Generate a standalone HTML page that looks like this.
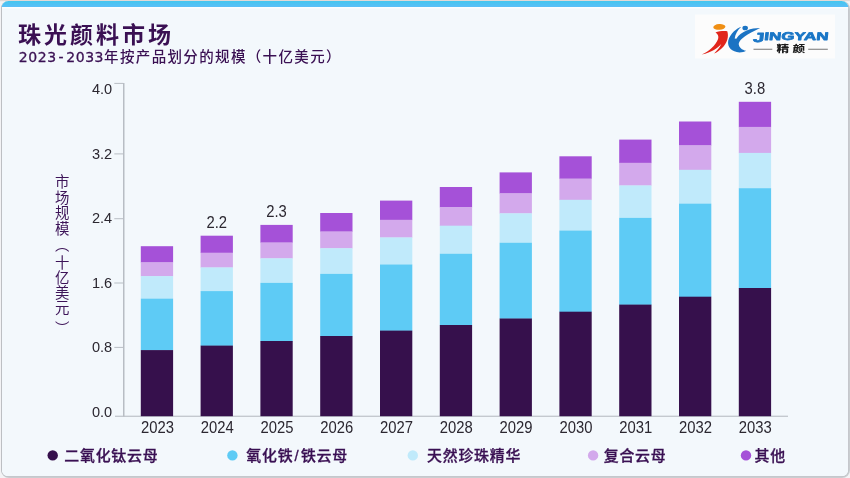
<!DOCTYPE html>
<html lang="zh"><head><meta charset="utf-8"><title>珠光颜料市场</title>
<style>html,body{margin:0;padding:0;background:#f3f3f5;}svg{display:block}text{font-family:"Liberation Sans","Noto Sans CJK SC",sans-serif}</style>
</head><body>
<svg width="850" height="478" viewBox="0 0 850 478">
<defs><linearGradient id="tb" x1="0" y1="0" x2="0" y2="1"><stop offset="0" stop-color="#43c6ee"/><stop offset="1" stop-color="#5bbff8"/></linearGradient>
<clipPath id="cc"><rect x="1.5" y="1" width="847" height="475.5" rx="7" ry="7"/></clipPath></defs>
<rect x="0" y="0" width="850" height="478" fill="#f3f3f5"/>
<rect x="0" y="0" width="850" height="1.2" fill="#e2d9d6"/>
<rect x="1" y="1" width="849" height="477" rx="8" ry="8" fill="#c9cdd0"/>
<rect x="1" y="1" width="848" height="476" rx="7.5" ry="7.5" fill="#bdbfc3"/>
<g clip-path="url(#cc)">
<rect x="2" y="1" width="846.3" height="475.3" fill="#f3f8fc"/>
<rect x="1" y="1" width="848" height="6" fill="url(#tb)"/>
<rect x="2" y="7" width="846.3" height="1.5" fill="#fbfdfe"/>
</g>
<rect x="695" y="14.5" width="140" height="44" fill="#fcfcfc"/>
<text x="18" y="43.2" font-size="23" font-weight="700" fill="#3a1053" letter-spacing="3">珠光颜料市场</text>
<text x="18.8" y="61.9" font-size="14.5" font-weight="500" fill="#3a1053" letter-spacing="1.35"><tspan style="font-family:&quot;DejaVu Sans&quot;,&quot;Liberation Sans&quot;,sans-serif" font-size="14" font-weight="400" letter-spacing="0.55" stroke="#3a1053" stroke-width="0.3">2023<tspan dx="1.9">-</tspan><tspan dx="2.1">2033</tspan></tspan>年按产品划分的规模（十亿美元）</text>
<rect x="123.0" y="83" width="1.5" height="333.6" fill="#b8bdc4"/>
<rect x="115" y="415.7" width="673" height="1.1" fill="#b8bdc4"/>
<rect x="114.3" y="82.9" width="9" height="1" fill="#b8bdc4"/>
<rect x="114.3" y="153.4" width="9" height="1" fill="#b8bdc4"/>
<rect x="114.3" y="218.2" width="9" height="1" fill="#b8bdc4"/>
<rect x="114.3" y="282.5" width="9" height="1" fill="#b8bdc4"/>
<rect x="114.3" y="346.9" width="9" height="1" fill="#b8bdc4"/>
<text transform="translate(112.2,93.9) scale(0.94,1)" font-size="15.5" text-anchor="end" fill="#2b2730">4.0</text>
<text transform="translate(112.2,158.5) scale(0.94,1)" font-size="15.5" text-anchor="end" fill="#2b2730">3.2</text>
<text transform="translate(112.2,223.3) scale(0.94,1)" font-size="15.5" text-anchor="end" fill="#2b2730">2.4</text>
<text transform="translate(112.2,287.6) scale(0.94,1)" font-size="15.5" text-anchor="end" fill="#2b2730">1.6</text>
<text transform="translate(112.2,352.0) scale(0.94,1)" font-size="15.5" text-anchor="end" fill="#2b2730">0.8</text>
<text transform="translate(112.2,416.7) scale(0.94,1)" font-size="15.5" text-anchor="end" fill="#2b2730">0.0</text>
<rect x="140.8" y="246.2" width="32.3" height="16.4" fill="#a551d8"/>
<rect x="140.8" y="262.3" width="32.3" height="14.1" fill="#d3a9ec"/>
<rect x="140.8" y="276.1" width="32.3" height="22.9" fill="#c0eafb"/>
<rect x="140.8" y="298.7" width="32.3" height="51.7" fill="#5ecbf5"/>
<rect x="140.8" y="350.1" width="32.3" height="66.1" fill="#36104c"/>
<text transform="translate(157.4,433.1) scale(0.945,1)" font-size="15.7" text-anchor="middle" fill="#2b2730">2023</text>
<rect x="200.6" y="235.7" width="32.3" height="17.3" fill="#a551d8"/>
<rect x="200.6" y="252.7" width="32.3" height="15.0" fill="#d3a9ec"/>
<rect x="200.6" y="267.4" width="32.3" height="24.0" fill="#c0eafb"/>
<rect x="200.6" y="291.1" width="32.3" height="54.8" fill="#5ecbf5"/>
<rect x="200.6" y="345.6" width="32.3" height="70.6" fill="#36104c"/>
<text transform="translate(217.2,433.1) scale(0.945,1)" font-size="15.7" text-anchor="middle" fill="#2b2730">2024</text>
<rect x="260.4" y="224.9" width="32.3" height="17.9" fill="#a551d8"/>
<rect x="260.4" y="242.5" width="32.3" height="16.1" fill="#d3a9ec"/>
<rect x="260.4" y="258.3" width="32.3" height="24.9" fill="#c0eafb"/>
<rect x="260.4" y="282.9" width="32.3" height="58.4" fill="#5ecbf5"/>
<rect x="260.4" y="341.0" width="32.3" height="75.2" fill="#36104c"/>
<text transform="translate(276.9,433.1) scale(0.945,1)" font-size="15.7" text-anchor="middle" fill="#2b2730">2025</text>
<rect x="320.2" y="213.0" width="32.3" height="18.8" fill="#a551d8"/>
<rect x="320.2" y="231.5" width="32.3" height="17.0" fill="#d3a9ec"/>
<rect x="320.2" y="248.2" width="32.3" height="26.0" fill="#c0eafb"/>
<rect x="320.2" y="273.9" width="32.3" height="62.4" fill="#5ecbf5"/>
<rect x="320.2" y="336.0" width="32.3" height="80.2" fill="#36104c"/>
<text transform="translate(336.7,433.1) scale(0.945,1)" font-size="15.7" text-anchor="middle" fill="#2b2730">2026</text>
<rect x="380.0" y="200.6" width="32.3" height="19.5" fill="#a551d8"/>
<rect x="380.0" y="219.8" width="32.3" height="17.9" fill="#d3a9ec"/>
<rect x="380.0" y="237.4" width="32.3" height="27.4" fill="#c0eafb"/>
<rect x="380.0" y="264.5" width="32.3" height="66.4" fill="#5ecbf5"/>
<rect x="380.0" y="330.6" width="32.3" height="85.6" fill="#36104c"/>
<text transform="translate(396.5,433.1) scale(0.945,1)" font-size="15.7" text-anchor="middle" fill="#2b2730">2027</text>
<rect x="439.8" y="187.0" width="32.3" height="20.4" fill="#a551d8"/>
<rect x="439.8" y="207.1" width="32.3" height="18.9" fill="#d3a9ec"/>
<rect x="439.8" y="225.7" width="32.3" height="28.4" fill="#c0eafb"/>
<rect x="439.8" y="253.8" width="32.3" height="71.5" fill="#5ecbf5"/>
<rect x="439.8" y="325.0" width="32.3" height="91.2" fill="#36104c"/>
<text transform="translate(456.3,433.1) scale(0.945,1)" font-size="15.7" text-anchor="middle" fill="#2b2730">2028</text>
<rect x="499.6" y="172.4" width="32.3" height="21.2" fill="#a551d8"/>
<rect x="499.6" y="193.3" width="32.3" height="20.3" fill="#d3a9ec"/>
<rect x="499.6" y="213.3" width="32.3" height="29.8" fill="#c0eafb"/>
<rect x="499.6" y="242.8" width="32.3" height="76.0" fill="#5ecbf5"/>
<rect x="499.6" y="318.5" width="32.3" height="97.7" fill="#36104c"/>
<text transform="translate(516.1,433.1) scale(0.945,1)" font-size="15.7" text-anchor="middle" fill="#2b2730">2029</text>
<rect x="559.4" y="156.3" width="32.3" height="22.6" fill="#a551d8"/>
<rect x="559.4" y="178.6" width="32.3" height="21.5" fill="#d3a9ec"/>
<rect x="559.4" y="199.8" width="32.3" height="31.1" fill="#c0eafb"/>
<rect x="559.4" y="230.6" width="32.3" height="81.4" fill="#5ecbf5"/>
<rect x="559.4" y="311.7" width="32.3" height="104.5" fill="#36104c"/>
<text transform="translate(575.9,433.1) scale(0.945,1)" font-size="15.7" text-anchor="middle" fill="#2b2730">2030</text>
<rect x="619.2" y="139.6" width="32.3" height="23.5" fill="#a551d8"/>
<rect x="619.2" y="162.8" width="32.3" height="22.9" fill="#d3a9ec"/>
<rect x="619.2" y="185.4" width="32.3" height="32.8" fill="#c0eafb"/>
<rect x="619.2" y="217.9" width="32.3" height="87.0" fill="#5ecbf5"/>
<rect x="619.2" y="304.6" width="32.3" height="111.6" fill="#36104c"/>
<text transform="translate(635.8,433.1) scale(0.945,1)" font-size="15.7" text-anchor="middle" fill="#2b2730">2031</text>
<rect x="679.0" y="121.5" width="32.3" height="24.1" fill="#a551d8"/>
<rect x="679.0" y="145.3" width="32.3" height="24.8" fill="#d3a9ec"/>
<rect x="679.0" y="169.8" width="32.3" height="34.2" fill="#c0eafb"/>
<rect x="679.0" y="203.7" width="32.3" height="93.3" fill="#5ecbf5"/>
<rect x="679.0" y="296.7" width="32.3" height="119.5" fill="#36104c"/>
<text transform="translate(695.5,433.1) scale(0.945,1)" font-size="15.7" text-anchor="middle" fill="#2b2730">2032</text>
<rect x="738.8" y="101.8" width="32.3" height="25.4" fill="#a551d8"/>
<rect x="738.8" y="126.9" width="32.3" height="26.3" fill="#d3a9ec"/>
<rect x="738.8" y="152.9" width="32.3" height="35.6" fill="#c0eafb"/>
<rect x="738.8" y="188.2" width="32.3" height="100.1" fill="#5ecbf5"/>
<rect x="738.8" y="288.0" width="32.3" height="128.2" fill="#36104c"/>
<text transform="translate(755.3,433.1) scale(0.945,1)" font-size="15.7" text-anchor="middle" fill="#2b2730">2033</text>
<text transform="translate(216.8,227.7) scale(0.945,1)" font-size="15.7" text-anchor="middle" fill="#2b2730">2.2</text>
<text transform="translate(276.5,216.9) scale(0.945,1)" font-size="15.7" text-anchor="middle" fill="#2b2730">2.3</text>
<text transform="translate(754.9,93.8) scale(0.945,1)" font-size="15.7" text-anchor="middle" fill="#2b2730">3.8</text>
<text x="60.8" y="174.3" font-size="14.4" fill="#3d1458" letter-spacing="1.25" style="writing-mode:vertical-rl;text-orientation:mixed" writing-mode="vertical-rl">市场规模<tspan dy="-0.3">（</tspan><tspan dy="3.6" letter-spacing="0.6">十亿美元</tspan><tspan dy="5.3">）</tspan></text>
<circle cx="52.7" cy="455.4" r="5.2" fill="#36104c"/>
<text x="64.3" y="461.1" font-size="14.9" font-weight="500" fill="#3a1053" stroke="#3a1053" stroke-width="0.3" letter-spacing="0.8">二氧化钛云母</text>
<circle cx="232.4" cy="455.4" r="5.2" fill="#5ecbf5"/>
<text x="246.3" y="461.1" font-size="14.9" font-weight="500" fill="#3a1053" stroke="#3a1053" stroke-width="0.3" letter-spacing="0.8">氧化铁<tspan dx="1.2">/</tspan><tspan dx="1.4">铁云母</tspan></text>
<circle cx="412.8" cy="455.4" r="5.2" fill="#c0eafb"/>
<text x="427" y="461.1" font-size="14.9" font-weight="500" fill="#3a1053" stroke="#3a1053" stroke-width="0.3" letter-spacing="0.8">天然珍珠精华</text>
<circle cx="593.1" cy="455.4" r="5.2" fill="#d3a9ec"/>
<text x="603.7" y="461.1" font-size="14.9" font-weight="500" fill="#3a1053" stroke="#3a1053" stroke-width="0.3" letter-spacing="0.8">复合云母</text>
<circle cx="746" cy="455.4" r="5.2" fill="#a551d8"/>
<text x="754.5" y="461.1" font-size="14.9" font-weight="500" fill="#3a1053" stroke="#3a1053" stroke-width="0.3" letter-spacing="0.8">其他</text>
<g id="logo">
<g transform="translate(698,16) scale(0.09211)">
<ellipse cx="232" cy="119" rx="66" ry="31" fill="#f08f14" transform="rotate(-4 232 119)"/>
<path d="M190,178 C225,165 280,160 318,165 C336,220 320,295 256,352 C230,377 202,396 175,408 C205,378 236,345 252,305 C215,345 150,400 40,418 C120,385 190,320 218,250 C228,220 215,192 190,178 Z" fill="#e1251b"/>
<ellipse cx="512" cy="131" rx="30" ry="25" fill="#1b73c3"/>
<path d="M470,118 C420,135 350,190 328,270 C315,340 370,395 450,395 C480,395 505,388 522,378 C478,370 442,340 442,302 C450,250 540,195 674,131 C585,130 468,163 416,246 L398,245 C405,200 430,150 470,118 Z" fill="#1b73c3"/>
</g>
<text transform="translate(752.9,40.1) scale(1.52,1) skewX(-4)" font-size="11.1" font-weight="700" fill="#1a76c6" stroke="#1a76c6" stroke-width="0.75" stroke-linejoin="round"><tspan font-size="13.2" dy="1.7">J</tspan><tspan dy="-1.7">INGYAN</tspan></text>
<rect x="753.5" y="48.8" width="18.8" height="0.8" fill="#555"/>
<rect x="808.2" y="48.8" width="19.6" height="0.8" fill="#555"/>
<text transform="translate(776.4,52.4) scale(1.33,1)" font-size="9.6" font-weight="900" fill="#1c1c1c" letter-spacing="2.6">精颜</text>
</g>
</svg></body></html>
